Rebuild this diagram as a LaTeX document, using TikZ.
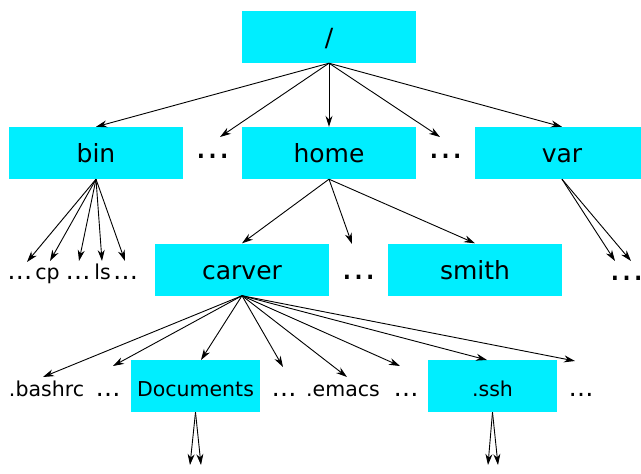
\documentclass[tikz,border=0pt]{standalone}
\usepackage{fontspec}
\setmainfont{DejaVu Sans}
\usetikzlibrary{arrows.meta}
\definecolor{boxcyan}{RGB}{0,238,255}
\tikzset{
  dirbox/.style={fill=boxcyan, draw=none, minimum width=174pt, minimum height=52pt, inner sep=0pt, font=\fontsize{25}{30}\selectfont, text height=19pt, text depth=0pt},
  subbox/.style={fill=boxcyan, draw=none, minimum width=129pt, minimum height=52pt, inner sep=0pt, font=\fontsize{20.5}{24}\selectfont, text height=20pt, text depth=0pt},
  filetext/.style={inner sep=0pt, anchor=base, font=\fontsize{20.5}{24}\selectfont},
  smalldots/.style={inner sep=0pt, anchor=base, font=\fontsize{25}{30}\selectfont},
  bigdots/.style={inner sep=0pt, anchor=base, font=\fontsize{35}{40}\selectfont},
  arr/.style={-{Stealth[length=11pt,width=7pt,inset=3.5pt]}, line width=0.9pt},
}
\begin{document}
\begin{tikzpicture}[x=1pt,y=-1pt]
\useasboundingbox (0,0) rectangle (641,474);
\clip (0,0) rectangle (641,474);
% level 0
\node[dirbox] (root) at (329,37) {/};
% level 1
\node[dirbox] (bin) at (96,153) {bin};
\node[dirbox] (home) at (329,153) {home};
\node[dirbox] (var) at (562,153) {var};
\node[bigdots] (d1) at (212.5,158) {…};
\node[bigdots] (d2) at (445.5,158) {…};
% bin contents
\node[smalldots] (b1) at (20,279) {…};
\node[filetext] (cp) at (47.5,279) {cp};
\node[smalldots] (b2) at (78,279) {…};
\node[filetext] (ls) at (102.5,279) {ls};
\node[smalldots] (b3) at (125.5,279) {…};
% home contents
\node[dirbox] (carver) at (242,269.5) {carver};
\node[bigdots] (d3) at (359,279) {…};
\node[dirbox] (smith) at (475,269.5) {smith};
\node[bigdots] (d4) at (627,280) {…};
% carver contents
\node[filetext] (bashrc) at (46.5,396) {.bashrc};
\node[smalldots] (c1) at (108,396) {…};
\node[subbox] (docs) at (195.5,386) {Documents};
\node[smalldots] (c2) at (284,396) {…};
\node[filetext] (emacs) at (343,396) {.emacs};
\node[smalldots] (c3) at (406,396) {…};
\node[subbox] (ssh) at (492.5,386) {.ssh};
\node[smalldots] (c4) at (581,396) {…};
% deeper (cut off at the lower edge, as in the reference)
\node[smalldots] (e1) at (196,479) {…};
\node[smalldots] (e2) at (493,479) {…};

% arrow tip coordinates
\coordinate (t-d1) at (220,137);
\coordinate (t-d2) at (440,137);
\coordinate (t-b1) at (27,262);
\coordinate (t-cp) at (50,261);
\coordinate (t-b2) at (79,261);
\coordinate (t-ls) at (102,261);
\coordinate (t-b3) at (125,261);
\coordinate (t-d3) at (352,244);
\coordinate (t-v1) at (615,261);
\coordinate (t-v2) at (631,261);
\coordinate (t-bashrc) at (43,377);
\coordinate (t-c1) at (113,366);
\coordinate (t-docs) at (201,360);
\coordinate (t-c2) at (283,367);
\coordinate (t-emacs) at (347,377);
\coordinate (t-c3) at (400,366);
\coordinate (t-ssh) at (487,360);
\coordinate (t-c4) at (575,361);
\coordinate (t-e1a) at (190,465);
\coordinate (t-e1b) at (201,465);
\coordinate (t-e2a) at (488,465);
\coordinate (t-e2b) at (498,465);

% root arrows
\draw[arr] (root.south) -- (bin.north);
\draw[arr] (root.south) -- (t-d1);
\draw[arr] (root.south) -- (home.north);
\draw[arr] (root.south) -- (t-d2);
\draw[arr] (root.south) -- (var.north);
% bin arrows
\foreach \t in {t-b1,t-cp,t-b2,t-ls,t-b3} \draw[arr] (bin.south) -- (\t);
% home arrows
\draw[arr] (home.south) -- (carver.north);
\draw[arr] (home.south) -- (t-d3);
\draw[arr] (home.south) -- (smith.north);
% var arrows
\draw[arr] (var.south) -- (t-v1);
\draw[arr] (var.south) -- (t-v2);
% carver arrows
\foreach \t in {t-bashrc,t-c1,t-docs,t-c2,t-emacs,t-c3,t-ssh,t-c4} \draw[arr] (carver.south) -- (\t);
% deeper arrows
\draw[arr] (docs.south) -- (t-e1a);
\draw[arr] (docs.south) -- (t-e1b);
\draw[arr] (ssh.south) -- (t-e2a);
\draw[arr] (ssh.south) -- (t-e2b);
\end{tikzpicture}
\end{document}
